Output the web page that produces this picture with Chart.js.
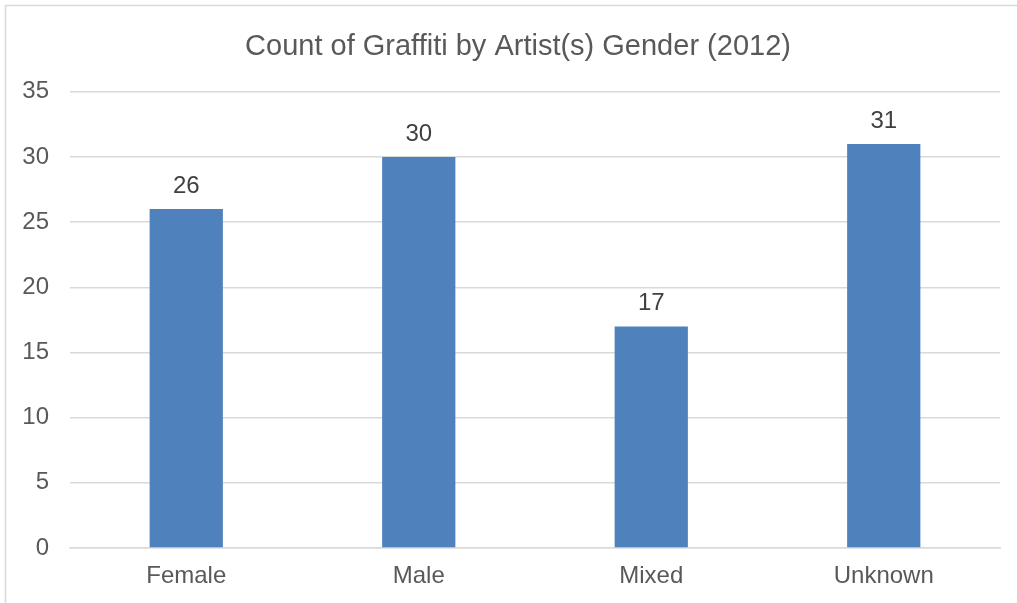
<!DOCTYPE html>
<html><head><meta charset="utf-8">
<script src="https://cdn.jsdelivr.net/npm/chart.js@4/dist/chart.umd.min.js"></script>
<style>
html,body{margin:0;padding:0;background:#fff;}
#wrap{position:absolute;left:0;top:0;width:1017px;height:603px;}
</style></head><body>
<div id="wrap"><canvas id="c" width="1017" height="603"></canvas></div>
<script>
const categories = ["Female", "Male", "Mixed", "Unknown"];
const counts = [26, 30, 17, 31];
const yTicks = [0, 5, 10, 15, 20, 25, 30, 35];
const chartTitle = "Count of Graffiti by Artist(s) Gender (2012)";

const FONT = "'Liberation Sans', Arial, sans-serif";

const frame = {
  id: 'frame',
  beforeDraw(chart) {
    const ctx = chart.ctx;
    ctx.save();
    ctx.fillStyle = '#fff';
    ctx.fillRect(0, 0, chart.width, chart.height);
    ctx.strokeStyle = '#d9d9d9';
    ctx.lineWidth = 1.5;
    ctx.strokeRect(5.5, 5.5, 1030, 620);
    ctx.restore();
  }
};
const labelsPlugin = {
  id: 'vals',
  afterDatasetsDraw(chart) {
    const ctx = chart.ctx;
    const meta = chart.getDatasetMeta(0);
    ctx.save();
    ctx.font = "24px " + FONT;
    ctx.fillStyle = '#404040';
    ctx.textAlign = 'center';
    ctx.textBaseline = 'bottom';
    meta.data.forEach((bar, i) => {
      ctx.fillText(String(counts[i]), bar.x, bar.y - 11);
    });
    ctx.restore();
  }
};

new Chart(document.getElementById('c'), {
  type: 'bar',
  data: {
    labels: categories,
    datasets: [{
      data: counts,
      backgroundColor: '#4f81bd',
      categoryPercentage: 1,
      barPercentage: 0.315
    }]
  },
  options: {
    responsive: false,
    animation: false,
    layout: { padding: { left: 19, right: 0, top: 12, bottom: 12 } },
    plugins: {
      legend: { display: false },
      tooltip: { enabled: false },
      title: {
        display: true,
        text: chartTitle,
        color: '#595959',
        font: { family: FONT, size: 29, weight: 'normal' },
        padding: { top: 18, bottom: 27 }
      }
    },
    scales: {
      x: {
        afterFit(s) { s.height = 43; s.paddingLeft = 0; s.paddingRight = 17; },
        grid: { display: false, drawTicks: false },
        border: { display: true, color: '#d9d9d9', width: 1.5 },
        ticks: { color: '#595959', font: { family: FONT, size: 24 }, padding: 14 }
      },
      y: {
        min: 0, max: 35,
        afterFit(s) { s.width = 51; s.paddingTop = 0; s.paddingBottom = 0; },
        afterBuildTicks(scale) { scale.ticks = yTicks.map(v => ({ value: v })); },
        grid: { color: '#d9d9d9', lineWidth: 1.5, drawTicks: false },
        border: { display: false },
        ticks: { color: '#595959', font: { family: FONT, size: 24 }, padding: 21 }
      }
    }
  },
  plugins: [frame, labelsPlugin]
});
</script>
</body></html>
